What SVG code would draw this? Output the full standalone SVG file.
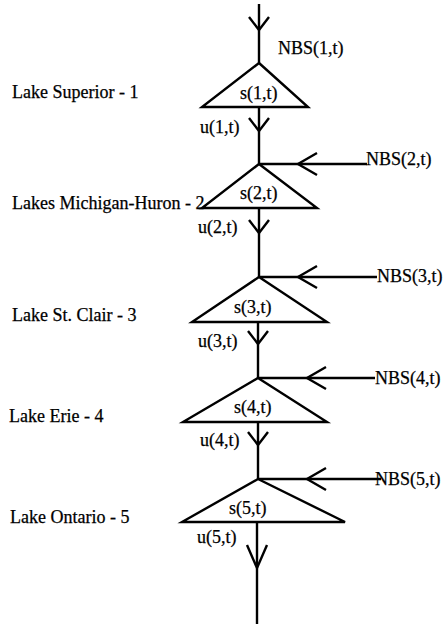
<svg xmlns="http://www.w3.org/2000/svg" width="443" height="624" viewBox="0 0 443 624">
<style>
  .ln { fill: none; stroke: #000; stroke-width: 2.4; stroke-linejoin: miter; stroke-linecap: butt; }
  .tri { fill: #fff; stroke: #000; stroke-width: 2.4; stroke-linejoin: miter; }
  text { font-family: "Liberation Serif", "Times New Roman", serif; font-size: 18px; fill: #000; stroke: #000; stroke-width: 0.25; }
</style>
<defs>
  <path id="vdown" class="ln" d="M -10 -13 L 0 0 L 10 -13"/>
  <path id="vleft" class="ln" d="M 19 -11 L 0 0 L 19 11"/>
</defs>
<rect width="443" height="624" fill="#fff"/>

<g id="connectors">
  <path class="ln" d="M 259 4 L 259 63"/>
  <path class="ln" d="M 259 107 L 259 164"/>
  <path class="ln" d="M 259 208 L 259 277"/>
  <path class="ln" d="M 258 322 L 258 378"/>
  <path class="ln" d="M 258 422 L 258 479"/>
  <path class="ln" d="M 257 522 L 257 624"/>
  <path class="ln" d="M 259 164 L 367 164"/>
  <path class="ln" d="M 259 277 L 377 277"/>
  <path class="ln" d="M 258 378 L 375 378"/>
  <path class="ln" d="M 258 479 L 381 479"/>
  <use href="#vdown" x="259" y="30"/>
  <use href="#vdown" x="259" y="131"/>
  <use href="#vdown" x="259" y="233"/>
  <use href="#vdown" x="258" y="344"/>
  <use href="#vdown" x="258" y="445"/>
  <path class="ln" d="M 247 545 L 257 568 L 267 545"/>
  <use href="#vleft" x="298" y="164"/>
  <use href="#vleft" x="298" y="277"/>
  <use href="#vleft" x="307" y="378"/>
  <use href="#vleft" x="307" y="479"/>
  <text x="200" y="133">u(1,t)</text>
  <text x="198" y="233">u(2,t)</text>
  <text x="198" y="347">u(3,t)</text>
  <text x="200" y="446">u(4,t)</text>
  <text x="197" y="543">u(5,t)</text>
</g>

<g id="nbs1"><text x="278" y="54">NBS(1,t)</text></g>
<g id="nbs2"><text x="366" y="165">NBS(2,t)</text></g>
<g id="nbs3"><text x="377" y="282">NBS(3,t)</text></g>
<g id="nbs4"><text x="375" y="384">NBS(4,t)</text></g>
<g id="nbs5"><text x="375" y="485">NBS(5,t)</text></g>

<g id="lake1">
  <path class="tri" d="M 259 63 L 308 107 L 202 107 Z"/>
  <text x="240" y="99">s(1,t)</text>
  <text x="12" y="98">Lake Superior - 1</text>
</g>
<g id="lake2">
  <text x="12" y="209">Lakes Michigan-Huron - 2</text>
  <path class="tri" d="M 259 164 L 317 208 L 202 208 Z"/>
  <text x="240" y="199">s(2,t)</text>
</g>
<g id="lake3">
  <path class="tri" d="M 259 277 L 327 322 L 192 322 Z"/>
  <text x="234" y="313">s(3,t)</text>
  <text x="12" y="321">Lake St. Clair - 3</text>
</g>
<g id="lake4">
  <path class="tri" d="M 258 378 L 327 422 L 183 422 Z"/>
  <text x="234" y="413">s(4,t)</text>
  <text x="9" y="422">Lake Erie - 4</text>
</g>
<g id="lake5">
  <path class="tri" d="M 258 479 L 345 522 L 182 522 Z"/>
  <text x="229" y="514">s(5,t)</text>
  <text x="10" y="523">Lake Ontario - 5</text>
</g>
</svg>
